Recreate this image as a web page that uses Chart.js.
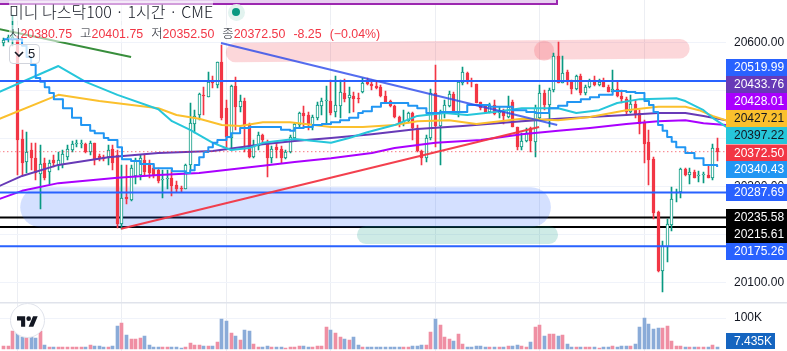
<!DOCTYPE html>
<html>
<head>
<meta charset="UTF-8">
<title>미니 나스닥100</title>
<script src="https://cdn.jsdelivr.net/npm/chart.js"></script>
<style>
    html, body { margin: 0; padding: 0; background: #fff; overflow: hidden; }
    #wrap { position: relative; width: 787px; height: 351px; font-family: "Liberation Sans", "Noto Sans CJK KR", sans-serif; color: #131722; }
    #strip { position: absolute; left: 0; top: 0; width: 556px; height: 3px; background: #e7cff0; border: solid #9c27b0; border-width: 0 2px 2px 0; }
    #title { position: absolute; left: 9px; top: 1px; height: 20px; line-height: 20px; font-size: 16px; font-family: "Noto Sans CJK KR", sans-serif; font-weight: 300; white-space: nowrap; background: rgba(255,255,255,.55); }
    #ring { position: absolute; left: 228px; top: 4px; width: 17px; height: 17px; border-radius: 50%; background: #e2f3ef; }
    #dot { position: absolute; left: 232px; top: 8px; width: 8px; height: 8px; border-radius: 50%; background: #089981; }
    #ohlc { position: absolute; left: 9px; top: 25px; height: 17px; line-height: 17px; font-size: 12.4px; white-space: nowrap; color: #f23645; background: rgba(255,255,255,.55); }
    #ohlc b { font-family: "Noto Sans CJK KR", sans-serif; font-weight: 300; color: #131722; margin-left: 8px; }
    #ohlc b:first-child { margin-left: 0; }
    #ohlc i { font-style: normal; margin-left: 8px; }
    #fold { position: absolute; left: 9px; top: 44px; width: 31px; height: 20px; box-sizing: border-box; border: 1px solid #d1d4dc; border-radius: 4px; background: rgba(255,255,255,.75); font-size: 13px; line-height: 18px; }
    #fold svg { position: absolute; left: 4px; top: 6px; }
    #fold span { position: absolute; left: 18px; top: 0; }
    #logo { position: absolute; left: 10px; top: 303px; width: 33px; height: 33px; border: 1px solid #e0e3eb; border-radius: 50%; background: #fff; }
    #logo svg { position: absolute; left: 6px; top: 10px; }
</style>
</head>
<body>
<script>
    // candles, one value per hourly bar
    const opens = [20599,20605,20605,20605,20399,20351,20376,20359,20326,20349,20330,20355,20345,20345,20361,20376,20388,20388,20388,20372,
        20391,20363,20361,20361,20378,20366,20222,20278,20272,20322,20324,20355,20349,20338,20334,20313,20316,20318,20303,20297,
        20295,20345,20430,20449,20491,20486,20522,20511,20559,20463,20401,20509,20466,20478,20428,20361,20384,20407,20391,20359,
        20382,20378,20359,20372,20401,20428,20453,20449,20428,20443,20468,20478,20478,20455,20468,20495,20484,20489,20485,20497,
        20518,20514,20509,20507,20489,20478,20468,20445,20430,20436,20453,20422,20374,20359,20401,20495,20426,20453,20468,20493,
        20455,20516,20536,20520,20514,20476,20470,20455,20470,20453,20455,20445,20476,20424,20382,20395,20422,20393,20443,20495,
        20470,20501,20572,20516,20539,20518,20503,20530,20495,20507,20522,20511,20518,20507,20497,20503,20489,20482,20455,20472,
        20453,20432,20393,20357,20247,20124,20174,20220,20286,20288,20336,20324,20330,20321,20324,20324,20318,20380.75];
    const highs = [20609,20616,20657,20614,20418,20413,20391,20391,20386,20359,20355,20366,20372,20376,20386,20395,20397,20397,20391,20395,
        20391,20368,20366,20386,20386,20376,20345,20345,20345,20359,20366,20368,20355,20345,20338,20334,20334,20334,20311,20301,
        20347,20474,20459,20495,20507,20539,20530,20559,20595,20480,20511,20528,20491,20484,20432,20397,20413,20409,20397,20384,
        20393,20384,20376,20407,20432,20455,20468,20455,20449,20476,20484,20509,20522,20530,20522,20524,20507,20497,20495,20526,
        20526,20522,20518,20511,20499,20480,20470,20447,20459,20455,20455,20428,20376,20407,20503,20553,20459,20480,20499,20497,
        20518,20549,20539,20526,20514,20476,20470,20474,20480,20466,20461,20489,20480,20424,20411,20422,20424,20470,20511,20501,
        20505,20578,20601,20572,20543,20522,20532,20534,20511,20524,20530,20524,20526,20511,20543,20518,20501,20486,20491,20480,
        20459,20438,20418,20361,20249,20186,20232,20299,20295,20338,20338,20338,20334,20332,20330,20345,20388,20401.75];
    const lows = [20593,20601,20593,20324,20324,20328,20334,20313,20254,20313,20305,20341,20334,20338,20355,20372,20382,20380,20370,20366,
        20345,20353,20353,20345,20334,20214,20212,20264,20270,20305,20313,20324,20318,20318,20307,20276,20295,20280,20288,20288,
        20295,20334,20411,20438,20449,20486,20505,20505,20438,20376,20376,20418,20455,20372,20359,20359,20376,20391,20320,20349,
        20359,20349,20357,20370,20397,20424,20424,20418,20418,20438,20449,20432,20449,20445,20443,20476,20453,20455,20474,20495,
        20511,20501,20503,20486,20474,20466,20443,20424,20426,20432,20397,20372,20345,20351,20397,20382,20345,20443,20466,20453,
        20445,20511,20514,20507,20474,20459,20453,20453,20449,20443,20430,20443,20424,20376,20376,20393,20372,20361,20438,20459,
        20424,20497,20516,20516,20511,20493,20501,20491,20491,20505,20509,20509,20507,20497,20497,20486,20474,20449,20453,20443,
        20409,20349,20303,20232,20122,20080,20143,20207,20268,20276,20322,20305,20318,20309,20307,20318,20313,20352.5];
    const closes = [20605,20611,20611,20397,20349,20372,20359,20328,20347,20318,20349,20349,20355,20368,20378,20388,20391,20391,20372,20391,
        20357,20357,20357,20376,20349,20222,20276,20274,20338,20355,20359,20330,20328,20322,20311,20315,20318,20301,20295,20295,
        20345,20432,20447,20493,20489,20518,20516,20559,20443,20403,20509,20466,20478,20428,20361,20386,20407,20397,20359,20378,
        20376,20359,20372,20403,20430,20453,20447,20430,20445,20470,20478,20480,20453,20470,20497,20482,20491,20482,20483,20516,
        20514,20509,20505,20489,20476,20468,20445,20432,20436,20453,20422,20374,20359,20401,20495,20426,20455,20470,20493,20453,
        20518,20539,20518,20518,20474,20463,20455,20468,20451,20455,20447,20466,20424,20382,20395,20411,20395,20463,20495,20470,
        20501,20572,20516,20536,20518,20503,20530,20495,20507,20520,20511,20518,20507,20497,20503,20489,20482,20455,20472,20449,
        20430,20388,20355,20245,20124,20176,20222,20274,20288,20336,20324,20330,20318,20323,20326,20318,20380,20372.5];

    // volume in thousands
    const volumes = [9.7,9.7,58,86,37.6,37.6,37.6,34.4,59,12.9,5.4,5.4,5.4,5.4,5.4,5.4,5.4,5.4,5.4,12.9,
        8.6,8.6,5.4,5.4,8.6,73,83.9,45,32,32,34.4,40.9,12.9,5.4,5.4,5.4,5.4,5.4,5.4,2.2,
        5.4,18.3,12.9,12.9,8.6,8.6,8.6,21.5,96.8,90.3,51.6,40.9,29,61.3,59,15,5.4,5.4,9.7,5.4,
        5.4,5.4,2.2,5.4,5.4,8.6,8.6,5.4,5.4,8.6,8.6,69.9,60,51.6,37.6,32,28,37.6,12.9,5.4,
        5.4,5.4,5.4,5.4,5.4,5.4,5.4,5.4,5.4,5.4,8.6,8.6,11.8,11.8,53.8,96.8,76,37.6,31,26.9,
        47.3,16,5.4,5.4,8.6,8.6,5.4,5.4,5.4,5.4,5.4,8.6,8.6,11.8,8.6,5.4,21.5,69.9,77.4,40.9,
        47.3,47.3,40.9,45,16,5.4,5.4,5.4,5.4,5.4,5.4,2.2,5.4,5.4,8.6,5.4,8.6,8.6,8.6,15,
        69.9,98.9,80.6,64.5,67.7,67.7,73,25.8,8.6,10.8,5.4,5.4,5.4,5.4,5.4,5.4,11.8,7.435];

    // the stepped blue line and the moving averages, read at the bars listed
    const stepBars = [0,3,4,5,6,7,8,9,10,11,13,15,17,19,20,22,23,25,26,28,30,33,37,40,41,42,43,44,45,46,47,49,50,52,54,57,61,63,64,66,68,70,72,74,76,78,79,81,83,87,89,91,93,96,99,102,107,110,112,115,117,120,122,124,127,129,131,134,137,139,141,142,143,144,145,146,147,148,150,152,154,157];
    const stepVals = [20607,20607,20593,20570,20553,20526,20518,20507,20495,20482,20463,20443,20428,20416,20411,20401,20397,20382,20357,20353,20347,20338,20332,20328,20334,20345,20361,20372,20382,20391,20397,20403,20411,20422,20424,20424,20418,20416,20422,20424,20428,20430,20434,20438,20443,20453,20457,20466,20474,20474,20468,20463,20453,20455,20455,20470,20466,20466,20459,20455,20453,20463,20468,20476,20482,20486,20491,20499,20497,20495,20478,20470,20455,20428,20416,20403,20393,20382,20370,20359,20345,20340.43];
    const tealBars = [-1,12,18,25,34,37,41,46,50,54,57,64,72,76,80,86,91,97,102,108,114,122,126,131,135,140,148,150,154,156,159];
    const tealVals = [20497,20551,20518,20491,20461,20436,20418,20391,20376,20380,20391,20399,20391,20401,20413,20428,20447,20453,20449,20455,20463,20463,20453,20459,20474,20482,20484,20478,20459,20443,20424];
    const amberBars = [-1,12,21,34,38,43,48,52,57,63,72,79,86,91,98,104,114,122,129,137,144,150,153,156,159];
    const amberVals = [20441,20491,20478,20463,20449,20441,20428,20426,20434,20434,20424,20424,20428,20436,20438,20430,20441,20438,20445,20459,20466,20466,20459,20447,20438];
    const indigoBars = [-1,4,12,23,34,46,57,64,72,81,91,101,114,122,129,137,144,150,154,159];
    const indigoVals = [20301,20322,20345,20361,20370,20374,20388,20395,20401,20409,20420,20426,20436,20441,20445,20449,20453,20453,20447,20438];
    const violetBars = [-1,4,12,25,34,43,57,64,72,81,86,95,105,114,122,129,137,144,150,154,159];
    const violetVals = [20274,20291,20307,20318,20324,20328,20343,20351,20359,20370,20380,20391,20397,20409,20416,20422,20430,20436,20438,20432,20428];

    // horizontal levels and the hand drawn trend lines
    const blueLevels = [20519.99, 20287.69, 20175.26];
    const blackLevels = [20235.58, 20215.61];
    const lastPrice = 20372.5;
    const greenTrendBars = [-1, 28];
    const greenTrendVals = [20628, 20570];
    const blueTrendBars = [47.8, 121.8];
    const blueTrendVals = [20599, 20428];
    const redTrendBars = [25.8, 117.8];
    const redTrendVals = [20212, 20424];

    // brushed zones
    const pinkZoneBars = [51, 148.8];
    const pinkZoneVals = [20579, 20587];
    const pinkSpotBars = [118.9];
    const pinkSpotVals = [20583];
    const blueZoneBars = [8, 116];
    const blueZoneVals = [20257, 20257];
    const tealZoneBars = [79.7, 120];
    const tealZoneVals = [20199, 20199];

    const priceTicks = [20600, 20500, 20400, 20300, 20200, 20100];
    const volumeTicks = [100];
    const sessionBars = [3, 26, 49, 72, 95, 118, 141];

    const tagLabels = ['20519.99','20433.76','20428.01','20427.21','20397.22','20372.50','20340.43','20287.69','20235.58','20215.61','20175.26','7.435K'];
    const tagTops = [59,76,93,110,127,144.5,161,184,209,226,243,333];
    const tagHeights = [17,17,17,17,17,17,17,17,17,17,17,16];
    const tagWidths = [61,61,61,61,61,61,61,61,61,61,61,49];
    const tagFills = ['#2962ff','#673ab7','#aa00ff','#fbc02d','#26c6da','#f23645','#2196f3','#2962ff','#000000','#000000','#2962ff','#1565c0'];
    const tagInks = ['#fff','#fff','#fff','#131722','#131722','#fff','#fff','#fff','#fff','#fff','#fff','#fff'];

    const fontFamily = '"Liberation Sans", sans-serif';
    const bars = opens.map((o, i) => i);
    const up = i => closes[i] >= opens[i];

    function pairs(xs, ys) {
        return xs.map((x, i) => ({ x: x, y: ys[i] }));
    }

    function line(xs, ys, color, width, order, extra) {
        return Object.assign({
            type: 'line', data: pairs(xs, ys), borderColor: color, borderWidth: width, order: order,
            pointRadius: 0, tension: 0, borderJoinStyle: 'round', xAxisID: 'x', yAxisID: 'y'
        }, extra || {});
    }

    function zone(xs, ys, color, width, order) {
        return line(xs, ys, color, width, order, { borderCapStyle: 'round' });
    }

    function level(value, color, width, order, extra) {
        return line([-1, 159], [value, value], color, width, order, extra);
    }

    function candleRange(list, lo, hi) {
        return list.map(i => ({ x: i, y: [lo[i], hi[i]] }));
    }

    function bar(data, color, fill, thickness, borderWidth, order) {
        return {
            type: 'bar', data: data, grouped: false, barThickness: thickness, borderColor: color, backgroundColor: fill,
            borderWidth: borderWidth, borderSkipped: false, order: order, xAxisID: 'x', yAxisID: 'y'
        };
    }

    const upBars = bars.filter(up);
    const downBars = bars.filter(i => !up(i));
    const bodyLow = opens.map((o, i) => Math.min(o, closes[i]));
    const bodyHigh = opens.map((o, i) => Math.max(o, closes[i]));

    const datasets = [
        level(blackLevels[0], '#000', 2, 60),
        level(blackLevels[1], '#000', 2, 60),
        zone(pinkZoneBars, pinkZoneVals, 'rgba(242,54,69,.2)', 19.5, 50),
        line(pinkSpotBars, pinkSpotVals, 'rgba(242,54,69,.2)', 0, 50, { showLine: false, pointRadius: 10, pointBackgroundColor: 'rgba(242,54,69,.2)', pointBorderWidth: 0 }),
        zone(blueZoneBars, blueZoneVals, 'rgba(41,98,255,.2)', 40, 50),
        zone(tealZoneBars, tealZoneVals, 'rgba(8,153,129,.2)', 18, 49),
        {
            type: 'bar', data: bars.map(i => ({ x: i, y: volumes[i] })), grouped: false, barThickness: 3, borderWidth: 0, order: 45,
            backgroundColor: bars.map(i => up(i) ? '#ef8fa3' : '#8aabd8'), xAxisID: 'x', yAxisID: 'yVol'
        },
        bar(candleRange(upBars, lows, highs), '#089981', '#089981', 1, 0, 40),
        bar(candleRange(downBars, lows, highs), '#f23645', '#f23645', 1, 0, 40),
        bar(candleRange(upBars, bodyLow, bodyHigh), '#089981', '#fff', 3, 1, 39),
        bar(candleRange(downBars, bodyLow, bodyHigh), '#f23645', '#f23645', 3, 1, 39),
        line(violetBars, violetVals, '#aa00ff', 2, 30),
        line(indigoBars, indigoVals, '#673ab7', 2, 29),
        line(amberBars, amberVals, '#fbc02d', 2, 28),
        line(tealBars, tealVals, '#26c6da', 2, 27),
        line(stepBars, stepVals, '#2196f3', 2, 26, { stepped: 'before' }),
        level(blueLevels[0], '#2962ff', 2, 20),
        level(blueLevels[1], '#2962ff', 2, 20),
        level(blueLevels[2], '#2962ff', 2, 20),
        level(lastPrice, '#f23645', 1, 19, { borderDash: [1, 3] }),
        line(greenTrendBars, greenTrendVals, '#388e3c', 2, 18),
        line(blueTrendBars, blueTrendVals, 'rgba(41,72,235,.8)', 2, 17),
        line(redTrendBars, redTrendVals, 'rgba(242,54,69,.95)', 2, 16)
    ];

    // keeps candles on whole pixels like the original
    const snapBars = {
        id: 'snapBars',
        beforeDatasetsDraw(chart) {
            chart.data.datasets.forEach((ds, i) => {
                if (ds.type !== 'bar') return;
                chart.getDatasetMeta(i).data.forEach(el => {
                    el.x = Math.floor(el.x) + 0.5;
                    el.y = Math.round(el.y);
                    el.base = Math.round(el.base);
                });
            });
        }
    };

    // pane separator and the coloured price tags on the scale
    const priceTags = {
        id: 'priceTags',
        afterDraw(chart) {
            const ctx = chart.ctx;
            ctx.save();
            ctx.fillStyle = '#e0e3eb';
            ctx.fillRect(0, 302, 787, 1.5);
            ctx.font = '12px ' + fontFamily;
            ctx.textBaseline = 'middle';
            ctx.textAlign = 'left';
            tagLabels.forEach((label, i) => {
                ctx.fillStyle = tagFills[i];
                ctx.fillRect(726, tagTops[i], tagWidths[i], tagHeights[i]);
                ctx.fillStyle = tagInks[i];
                ctx.fillText(label, 734, tagTops[i] + tagHeights[i] / 2 + 0.5);
            });
            ctx.restore();
        }
    };

    // no extra room around the scales, the panes fill the whole canvas
    function noPadding(s) {
        s.paddingTop = 0;
        s.paddingBottom = 0;
        s.paddingLeft = 0;
        s.paddingRight = 0;
    }

    document.addEventListener('DOMContentLoaded', function () {
        const ctx = document.getElementById('myChart').getContext('2d');
        new Chart(ctx, {
            data: { datasets: datasets },
            plugins: [snapBars, priceTags],
            options: {
                responsive: false,
                animation: false,
                parsing: { xAxisKey: 'x', yAxisKey: 'y' },
                layout: { padding: 0, autoPadding: false },
                plugins: { legend: { display: false }, tooltip: { enabled: false } },
                scales: {
                    x: {
                        type: 'linear', min: -0.852, max: 158.95, offset: false,
                        afterBuildTicks: s => { s.ticks = sessionBars.map(v => ({ value: v })); },
                        afterFit: s => { s.height = 0; noPadding(s); },
                        ticks: { display: false },
                        grid: { color: '#eceef3', drawTicks: false, offset: false },
                        border: { display: false }
                    },
                    y: {
                        position: 'right', stack: 'panes', stackWeight: 302.5, min: 20058.33, max: 20688.54,
                        afterBuildTicks: s => { s.ticks = priceTicks.map(v => ({ value: v })); },
                        afterFit: s => { s.width = 61; noPadding(s); },
                        ticks: { callback: v => v.toFixed(2), color: '#131722', padding: 8, font: { family: fontFamily, size: 12 } },
                        grid: { color: '#f0f3fa', drawTicks: false },
                        border: { display: false }
                    },
                    yVol: {
                        position: 'right', stack: 'panes', stackWeight: 48.5, min: -6.45, max: 150,
                        afterBuildTicks: s => { s.ticks = volumeTicks.map(v => ({ value: v })); },
                        afterFit: s => { s.width = 61; noPadding(s); },
                        ticks: { callback: v => v + 'K', color: '#131722', padding: 8, font: { family: fontFamily, size: 12 } },
                        grid: { color: '#f0f3fa', drawTicks: false },
                        border: { display: false }
                    }
                }
            }
        });
    });
</script>
<div id="wrap">
    <canvas id="myChart" width="787" height="351"></canvas>
    <div id="strip"></div>
    <div id="title">미니 나스닥100 · 1시간 · CME</div>
    <div id="ring"></div>
    <div id="dot"></div>
    <div id="ohlc"><b>시</b>20380.75<b>고</b>20401.75<b>저</b>20352.50<b>종</b>20372.50<i>-8.25</i><i>(−0.04%)</i></div>
    <div id="fold"><svg width="10" height="7" viewBox="0 0 10 7"><path d="M1 1l4 4 4-4" fill="none" stroke="#131722" stroke-width="1.6"/></svg><span>5</span></div>
    <div id="logo"><svg width="21" height="14" viewBox="0 0 36 24"><path d="M14 22H7V11H0V4h14v18zM28 22h-8l7.5-18h8L28 22z" fill="#131722"/><circle cx="20" cy="8" r="4" fill="#131722"/></svg></div>
</div>
</body>
</html>
